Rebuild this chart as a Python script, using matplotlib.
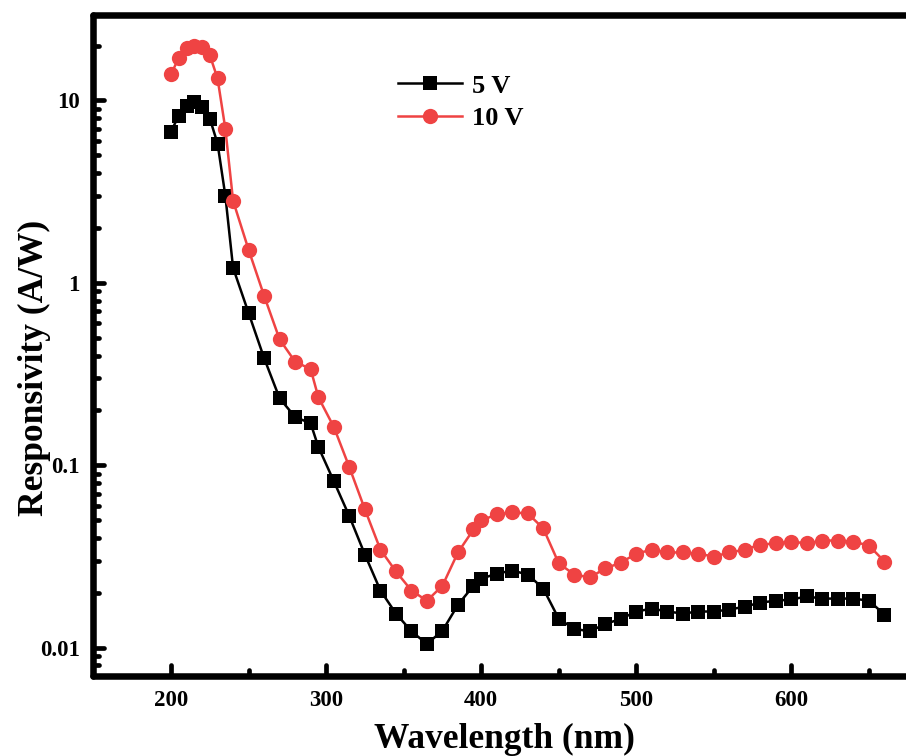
import numpy as np
import matplotlib
matplotlib.use('Agg')
import matplotlib.pyplot as plt
from matplotlib.markers import MarkerStyle
from matplotlib.ticker import FixedLocator, LogLocator, FuncFormatter, MultipleLocator

# 光谱响应数据 (nm, A/W)
wavelength = [200, 205, 210, 215, 220, 225, 230, 235, 240, 250, 260, 270, 280, 290, 295,
              305, 315, 325, 335, 345, 355, 365, 375, 385, 395, 400, 410, 420, 430, 440,
              450, 460, 470, 480, 490, 500, 510, 520, 530, 540, 550, 560, 570, 580, 590,
              600, 610, 620, 630, 640, 650, 660]
resp_5v = [6.76, 8.27, 9.27, 9.75, 9.16, 7.96, 5.80, 3.01, 1.21, 0.684, 0.387, 0.233, 0.184, 0.170, 0.126,
           0.0817, 0.0525, 0.0324, 0.0206, 0.0154, 0.0123, 0.0105, 0.0124, 0.0172, 0.0219, 0.0239, 0.0255, 0.0265, 0.0252, 0.0211,
           0.0144, 0.0127, 0.0123, 0.0135, 0.0144, 0.0158, 0.0164, 0.0158, 0.0154, 0.0158, 0.0158, 0.0162, 0.0168, 0.0177, 0.0181,
           0.0184, 0.0191, 0.0186, 0.0186, 0.0186, 0.0181, 0.0152]
resp_10v = [13.9, 17.2, 19.3, 20.0, 19.6, 17.7, 13.2, 7.0, 2.82, 1.52, 0.85, 0.49, 0.37, 0.337, 0.236,
            0.162, 0.0975, 0.0573, 0.0345, 0.0262, 0.0206, 0.0181, 0.0219, 0.0333, 0.0445, 0.0499, 0.0538, 0.0552, 0.0545, 0.0451,
            0.0290, 0.0252, 0.0243, 0.0272, 0.0293, 0.0328, 0.0345, 0.0333, 0.0333, 0.0328, 0.0316, 0.0333, 0.0345, 0.0368, 0.0373,
            0.0382, 0.0373, 0.0387, 0.0387, 0.0382, 0.0363, 0.0297]
y_ticks = [0.01, 0.1, 1, 10]
y_ticklabels = ['0.01', '0.1', '1', '10']

plt.rcParams['font.family'] = ['Liberation Serif', 'DejaVu Serif']
plt.rcParams['font.weight'] = 'bold'

fig = plt.figure(figsize=(9.06, 7.56), dpi=100)
ax = fig.add_axes([0.1032, 0.1058, 0.9073, 0.8743])

red = '#EF4343'
ax.plot(wavelength, resp_5v, color='black', lw=1.8, marker='s', ms=9.5, mew=0, label='5 V')
ax.plot(wavelength, resp_10v, color=red, lw=1.8, marker='o', ms=11, mew=0, label='10 V')

ax.set_yscale('log')
ax.set_xlim(150, 680)
ax.set_ylim(0.007, 29.4)

ax.xaxis.set_major_locator(MultipleLocator(100))
ax.xaxis.set_minor_locator(MultipleLocator(50))
ax.yaxis.set_major_locator(FixedLocator(y_ticks))
ax.yaxis.set_major_formatter(FuncFormatter(lambda v, p: y_ticklabels[y_ticks.index(v)] if v in y_ticks else ''))
ax.yaxis.set_minor_locator(LogLocator(base=10, subs=np.arange(2, 10), numticks=20))
ax.yaxis.set_minor_formatter(FuncFormatter(lambda v, p: ''))

for s in ax.spines.values():
    s.set_linewidth(4.7)
    s.set_capstyle('round')

ax.tick_params(which='both', direction='in', top=False, right=False, labelsize=16.5, pad=10)
ax.tick_params(which='major', length=8, width=3.4)
ax.tick_params(which='minor', length=4.5, width=3.4)

# 刻度线用圆头
for axis in (ax.xaxis, ax.yaxis):
    for t in axis.get_major_ticks() + axis.get_minor_ticks():
        t.tick1line.set_marker(MarkerStyle(t.tick1line.get_marker(), capstyle='round'))

for lab in ax.get_xticklabels() + ax.get_yticklabels():
    lab.set_fontweight('bold')

ax.set_xlabel('Wavelength (nm)', fontsize=25.5, fontweight='bold', labelpad=9)
ax.set_ylabel('Responsivity (A/W)', fontsize=25.5, fontweight='bold')
ax.yaxis.set_label_coords(-0.0517, 0.4667)

ax.legend(loc='center left', bbox_to_anchor=(0.370, 0.868), frameon=False,
          prop={'size': 19, 'weight': 'bold'}, handlelength=2.45, handletextpad=0.37,
          labelspacing=0.35, borderpad=0, borderaxespad=0)

fig.savefig('out.png', dpi=100)
